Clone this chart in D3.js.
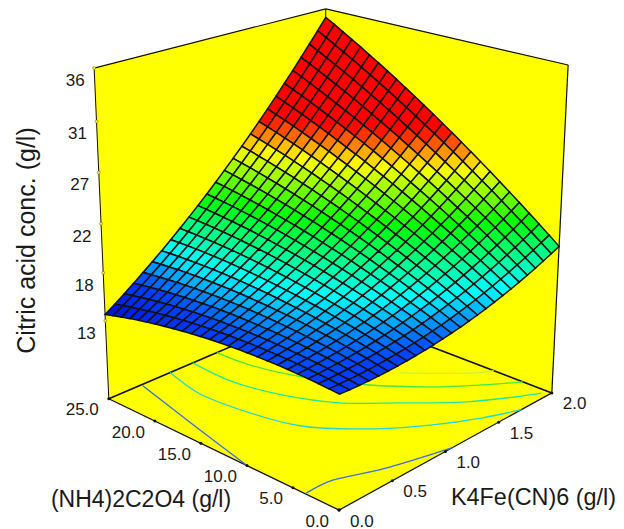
<!DOCTYPE html>
<html>
<head>
<meta charset="utf-8">
<script src="https://cdn.jsdelivr.net/npm/d3@7"></script>
<style>
  html, body { margin: 0; background: #fff; }
  text { font-family: "Liberation Sans", Arial, sans-serif; fill: #1a1a1a; }
</style>
</head>
<body>
<div id="chart"></div>
<script>
// surface nodes: edges and colour bands, interior estimated by hand
const kValues = [0, 0.08, 0.16, 0.24, 0.32, 0.4, 0.48, 0.56, 0.64, 0.72, 0.8, 0.88, 0.96, 1.04, 1.12, 1.2, 1.28, 1.36, 1.44, 1.52, 1.6, 1.68, 1.76, 1.84, 1.92, 2];
const nValues = [0, 1, 2, 3, 4, 5, 6, 7, 8, 9, 10, 11, 12, 13, 14, 15, 16, 17, 18, 19, 20, 21, 22, 23, 24, 25];
// one row per N value, one column per K value
const zRows = [
  [15.80,15.76,15.74,15.73,15.74,15.77,15.81,15.87,15.95,16.04,16.15,16.28,16.42,16.58,16.76,16.95,17.16,17.39,17.63,17.89,18.17,18.46,18.77,19.10,19.44,19.80],
  [15.87,15.85,15.85,15.87,15.90,15.95,16.02,16.11,16.21,16.33,16.46,16.62,16.78,16.97,17.18,17.40,17.63,17.89,18.16,18.45,18.76,19.08,19.42,19.78,20.15,20.54],
  [15.93,15.93,15.96,16.00,16.05,16.13,16.22,16.33,16.46,16.60,16.76,16.94,17.14,17.35,17.58,17.83,18.10,18.38,18.68,19.00,19.33,19.69,20.06,20.44,20.85,21.27],
  [15.97,16.00,16.05,16.11,16.19,16.29,16.41,16.54,16.69,16.86,17.05,17.26,17.48,17.72,17.98,18.25,18.55,18.86,19.19,19.53,19.90,20.28,20.68,21.10,21.53,21.99],
  [16.01,16.06,16.13,16.22,16.32,16.44,16.59,16.75,16.92,17.12,17.33,17.56,17.81,18.08,18.37,18.67,18.99,19.33,19.69,20.06,20.46,20.87,21.30,21.75,22.21,22.70],
  [16.03,16.10,16.20,16.31,16.44,16.59,16.75,16.94,17.14,17.36,17.60,17.86,18.14,18.43,18.74,19.07,19.42,19.79,20.18,20.58,21.00,21.45,21.90,22.38,22.88,23.39],
  [16.04,16.14,16.25,16.39,16.54,16.72,16.91,17.12,17.35,17.60,17.86,18.15,18.45,18.77,19.11,19.47,19.85,20.25,20.66,21.10,21.55,22.02,22.51,23.02,23.54,24.08],
  [16.03,16.16,16.30,16.46,16.64,16.84,17.05,17.29,17.55,17.82,18.11,18.42,18.75,19.10,19.47,19.86,20.26,20.69,21.13,21.59,22.07,22.57,23.09,23.63,24.18,24.76],
  [16.02,16.17,16.33,16.52,16.72,16.95,17.19,17.45,17.73,18.03,18.35,18.69,19.05,19.42,19.82,20.23,20.67,21.12,21.59,22.08,22.59,23.12,23.67,24.24,24.82,25.42],
  [15.99,16.16,16.36,16.57,16.80,17.05,17.32,17.60,17.91,18.24,18.58,18.95,19.33,19.74,20.16,20.60,21.06,21.54,22.04,22.56,23.10,23.66,24.24,24.83,25.45,26.08],
  [15.95,16.15,16.37,16.60,16.86,17.14,17.43,17.74,18.08,18.43,18.80,19.20,19.61,20.04,20.49,20.96,21.45,21.96,22.49,23.03,23.60,24.19,24.80,25.42,26.07,26.73],
  [15.90,16.12,16.37,16.63,16.91,17.21,17.53,17.87,18.23,18.61,19.01,19.43,19.87,20.33,20.81,21.31,21.82,22.36,22.92,23.50,24.09,24.71,25.34,26.00,26.67,27.37],
  [15.84,16.09,16.35,16.64,16.95,17.28,17.63,17.99,18.38,18.79,19.22,19.66,20.13,20.62,21.12,21.65,22.19,22.76,23.34,23.95,24.57,25.22,25.88,26.56,27.27,27.99],
  [15.76,16.04,16.33,16.65,16.98,17.33,17.71,18.10,18.52,18.95,19.41,19.88,20.37,20.89,21.42,21.98,22.55,23.14,23.76,24.39,25.04,25.71,26.41,27.12,27.85,28.61],
  [15.67,15.97,16.30,16.64,17.00,17.38,17.78,18.20,18.64,19.11,19.59,20.09,20.61,21.15,21.71,22.30,22.90,23.52,24.16,24.82,25.50,26.20,26.93,27.67,28.43,29.21],
  [15.57,15.90,16.25,16.62,17.01,17.42,17.84,18.29,18.76,19.25,19.76,20.29,20.84,21.41,22.00,22.61,23.24,23.89,24.56,25.25,25.96,26.69,27.44,28.21,29.00,29.81],
  [15.46,15.82,16.19,16.59,17.00,17.44,17.90,18.37,18.87,19.39,19.92,20.48,21.06,21.65,22.27,22.91,23.57,24.25,24.94,25.66,26.40,27.16,27.94,28.74,29.56,30.39],
  [15.34,15.72,16.12,16.54,16.99,17.45,17.94,18.44,18.96,19.51,20.07,20.66,21.26,21.89,22.53,23.20,23.88,24.59,25.32,26.06,26.83,27.62,28.42,29.25,30.10,30.97],
  [15.20,15.61,16.04,16.49,16.96,17.45,17.97,18.50,19.05,19.62,20.22,20.83,21.46,22.12,22.79,23.48,24.20,24.93,25.69,26.46,27.26,28.07,28.91,29.76,30.64,31.53],
  [15.05,15.49,15.95,16.43,16.93,17.45,17.99,18.55,19.13,19.73,20.35,20.99,21.65,22.33,23.03,23.76,24.50,25.26,26.04,26.85,27.67,28.51,29.38,30.26,31.17,32.09],
  [14.89,15.36,15.84,16.35,16.88,17.43,17.99,18.58,19.19,19.82,20.47,21.14,21.83,22.54,23.27,24.02,24.79,25.58,26.39,27.22,28.07,28.94,29.84,30.75,31.68,32.63],
  [14.72,15.21,15.73,16.26,16.82,17.40,17.99,18.61,19.25,19.90,20.58,21.28,22.00,22.74,23.49,24.27,25.07,25.89,26.73,27.59,28.47,29.37,30.29,31.23,32.19,33.17],
  [14.53,15.05,15.60,16.16,16.75,17.36,17.98,18.63,19.29,19.98,20.68,21.41,22.16,22.92,23.71,24.52,25.34,26.19,27.06,27.95,28.85,29.78,30.73,31.70,32.68,33.69],
  [14.33,14.89,15.46,16.06,16.67,17.30,17.96,18.63,19.33,20.04,20.78,21.53,22.31,23.10,23.92,24.75,25.61,26.48,27.38,28.29,29.23,30.18,31.16,32.15,33.17,34.20],
  [14.12,14.71,15.31,15.93,16.58,17.24,17.93,18.63,19.35,20.10,20.86,21.64,22.45,23.27,24.11,24.98,25.86,26.76,27.69,28.63,29.59,30.58,31.58,32.60,33.65,34.71],
  [13.90,14.51,15.15,15.80,16.48,17.17,17.88,18.61,19.37,20.14,20.93,21.74,22.58,23.43,24.30,25.19,26.10,27.03,27.99,28.96,29.95,30.96,31.99,33.04,34.11,35.20]
];
const kTicks = ['0.0', '0.5', '1.0', '1.5', '2.0'];
const nTicks = ['0.0', '5.0', '10.0', '15.0', '20.0', '25.0'];
const zTicks = [13.3, 17.8, 22.3, 26.9, 31.4, 36.0];
const zRange = [5.8, 36.0];

// contour lines on the floor, [K, N]
const contours = [
  {color: '#3a6fe0', pts: [[0.27, 24.8], [0.127, 16.7], [0, 9.2]]},
  {color: '#3a6fe0', pts: [[0, 3.3], [0.10, 3.35], [0.22, 3.2], [0.52, 1.65], [1.0, 0]]},
  {color: '#1fd8d8', pts: [[0.52, 25], [0.444, 20.4], [0.48, 15.1], [0.57, 10.8], [0.866, 6.14], [1.14, 3.44], [1.425, 1.37], [1.68, 0]]},
  {color: '#1fe8a0', pts: [[0.72, 25], [0.707, 20], [0.797, 15.4], [0.965, 11.2], [1.225, 7.73], [1.526, 4], [1.80, 1.66], [1.95, 0.6]]},
  {color: '#46e646', pts: [[0.94, 25], [0.958, 21.3], [1.079, 16.2], [1.27, 11.8], [1.54, 7.66], [1.783, 4.96], [2, 2.9]]},
  {color: '#c8f040', pts: [[1.548, 11.3], [1.893, 6.7], [2, 5.9]]}
];

const width = 624, height = 529;

const kScale = d3.scaleLinear().domain([0, 2]).range([0, 1]);
const nScale = d3.scaleLinear().domain([0, 25]).range([0, 1]);
const zScale = d3.scaleLinear().domain(zRange).range([0, 1]);
const zColor = d3.scaleLinear()
  .domain([13.5, 16, 18, 21.5, 25, 27.5])
  .range(['#0000c8', '#0040ff', '#00ffff', '#00ff00', '#ffff00', '#ff0000'])
  .clamp(true);

// box corners on screen, used to fit the perspective camera: [u, v, w, x, y]
const boxCorners = [
  [0, 0, 0, 339, 510],
  [1, 0, 0, 552, 393],
  [0, 1, 0, 109, 399],
  [1, 1, 0, 325, 306],
  [1, 1, 1, 326, 9],
  [0, 1, 1, 94, 68],
  [1, 0, 1, 568, 65]
];

// least squares for the 11 camera terms
function fitCamera(corners) {
  const rows = [];
  corners.forEach(c => {
    const [u, v, w, x, y] = c;
    rows.push([u, v, w, 1, 0, 0, 0, 0, -x * u, -x * v, -x * w, x]);
    rows.push([0, 0, 0, 0, u, v, w, 1, -y * u, -y * v, -y * w, y]);
  });
  const m = d3.range(11).map(i => d3.range(12).map(j => d3.sum(rows, r => r[i] * r[j])));
  for (let i = 0; i < 11; i++) {
    let best = i;
    for (let r = i + 1; r < 11; r++) if (Math.abs(m[r][i]) > Math.abs(m[best][i])) best = r;
    [m[i], m[best]] = [m[best], m[i]];
    for (let r = 0; r < 11; r++) {
      if (r === i) continue;
      const f = m[r][i] / m[i][i];
      for (let c = i; c < 12; c++) m[r][c] -= f * m[i][c];
    }
  }
  return m.map((r, i) => r[11] / r[i]);
}
const cam = fitCamera(boxCorners);

function toScreen(u, v, w) {
  const d = cam[8] * u + cam[9] * v + cam[10] * w + 1;
  return [(cam[0] * u + cam[1] * v + cam[2] * w + cam[3]) / d,
          (cam[4] * u + cam[5] * v + cam[6] * w + cam[7]) / d];
}
const project = (k, n, z) => toScreen(kScale(k), nScale(n), zScale(z));

const svg = d3.select('#chart').append('svg')
  .attr('width', width)
  .attr('height', height)
  .style('display', 'block');

const poly = d3.line();

// walls and floor
const faces = [
  [[0, 1, 0], [1, 1, 0], [1, 1, 1], [0, 1, 1]],
  [[1, 0, 0], [1, 1, 0], [1, 1, 1], [1, 0, 1]],
  [[0, 0, 0], [1, 0, 0], [1, 1, 0], [0, 1, 0]]
];
svg.append('g').selectAll('path')
  .data(faces)
  .enter()
  .append('path')
  .attr('d', d => poly(d.map(p => toScreen(p[0], p[1], p[2]))) + 'Z')
  .attr('fill', '#ffff00')
  .attr('stroke', '#ffff00')
  .attr('stroke-width', 0.5);

// box edges
const edges = [
  [[0, 1, 0], [0, 1, 1], 1], [[0, 1, 1], [1, 1, 1], 1.2], [[1, 1, 1], [1, 0, 1], 1.2],
  [[1, 0, 1], [1, 0, 0], 1.2], [[1, 1, 0], [1, 1, 1], 1],
  [[0, 0, 0], [1, 0, 0], 1.2], [[0, 0, 0], [0, 1, 0], 1.2],
  [[0, 1, 0], [1, 1, 0], 1.6], [[1, 0, 0], [1, 1, 0], 1.6]
];
svg.append('g').selectAll('path')
  .data(edges)
  .enter()
  .append('path')
  .attr('d', d => poly([toScreen(d[0][0], d[0][1], d[0][2]), toScreen(d[1][0], d[1][1], d[1][2])]))
  .attr('stroke', '#111')
  .attr('stroke-width', d => d[2])
  .attr('fill', 'none');

// contours
const contourLine = d3.line().curve(d3.curveCatmullRom);
svg.append('g').selectAll('path')
  .data(contours)
  .enter()
  .append('path')
  .attr('d', d => contourLine(d.pts.map(p => project(p[0], p[1], zRange[0]))))
  .attr('stroke', d => d.color)
  .attr('stroke-width', 1.3)
  .attr('fill', 'none');

// surface cells, back corner first
const cells = [];
for (let j = nValues.length - 2; j >= 0; j--) {
  for (let i = kValues.length - 2; i >= 0; i--) {
    cells.push({i: i, j: j});
  }
}
svg.append('g').selectAll('path')
  .data(cells)
  .enter()
  .append('path')
  .attr('d', d => poly([
    project(kValues[d.i], nValues[d.j], zRows[d.j][d.i]),
    project(kValues[d.i + 1], nValues[d.j], zRows[d.j][d.i + 1]),
    project(kValues[d.i + 1], nValues[d.j + 1], zRows[d.j + 1][d.i + 1]),
    project(kValues[d.i], nValues[d.j + 1], zRows[d.j + 1][d.i])
  ]) + 'Z')
  .attr('fill', d => zColor((zRows[d.j][d.i] + zRows[d.j][d.i + 1] + zRows[d.j + 1][d.i] + zRows[d.j + 1][d.i + 1]) / 4))
  .attr('stroke', '#111')
  .attr('stroke-width', 1.5);

// ticks sit evenly along their edges
const kEdge = d3.interpolate(toScreen(0, 0, 0), toScreen(1, 0, 0));
const nEdge = d3.interpolate(toScreen(0, 0, 0), toScreen(0, 1, 0));

const floorTicks = kTicks.map(t => ({label: t, at: kEdge(kScale(+t)).slice(), dx: 11, anchor: 'start'}))
  .concat(nTicks.map(t => ({label: t, at: nEdge(nScale(+t)).slice(), dx: -10, anchor: 'end'})));

svg.append('g').selectAll('circle')
  .data(floorTicks)
  .enter()
  .append('circle')
  .attr('cx', d => d.at[0])
  .attr('cy', d => d.at[1])
  .attr('r', 1.5)
  .attr('fill', '#111');

svg.append('g').selectAll('text')
  .data(floorTicks)
  .enter()
  .append('text')
  .attr('x', d => d.at[0] + d.dx)
  .attr('y', d => d.at[1] + 10.5)
  .attr('dy', '0.35em')
  .attr('text-anchor', d => d.anchor)
  .style('font-size', '17px')
  .text(d => d.label);

const zGroup = svg.append('g').selectAll('g')
  .data(zTicks)
  .enter()
  .append('g')
  .attr('transform', d => `translate(${project(0, 25, d)})`);
zGroup.append('circle')
  .attr('r', 1.5)
  .attr('fill', '#ffff00')
  .attr('stroke', '#555')
  .attr('stroke-width', 0.5);
zGroup.append('text')
  .attr('x', -19)
  .attr('y', 12)
  .attr('dy', '0.35em')
  .attr('text-anchor', 'middle')
  .style('font-size', '17px')
  .text(d => d3.format('.0f')(d));

// axis titles
svg.append('text')
  .attr('x', 141).attr('y', 507)
  .attr('text-anchor', 'middle')
  .style('font-size', '23px')
  .text('(NH4)2C2O4 (g/l)');
svg.append('text')
  .attr('x', 533.5).attr('y', 505)
  .attr('text-anchor', 'middle')
  .style('font-size', '23.4px')
  .text('K4Fe(CN)6 (g/l)');
svg.append('text')
  .attr('transform', 'translate(35,240.5) rotate(-90)')
  .attr('text-anchor', 'middle')
  .style('font-size', '25px')
  .text('Citric acid conc. (g/l)');
</script>
</body>
</html>
